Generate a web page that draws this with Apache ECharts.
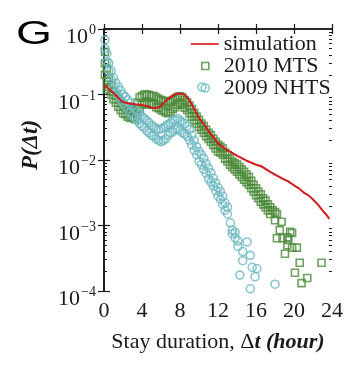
<!DOCTYPE html>
<html><head><meta charset="utf-8">
<script src="https://cdn.jsdelivr.net/npm/echarts@6/dist/echarts.min.js"></script>
<style>html,body{margin:0;padding:0;background:#fff}#c{width:353px;height:377px}</style>
</head><body><div id="c"></div>
<script>
// simulation curve
var simHours = [0,0.5,1,1.5,2,2.5,3,3.5,4,4.5,5,5.5,6,6.5,7,7.5,8,8.5,9,9.5,10,10.5,11,11.5,12,12.5,13,13.5,14,14.5,15,15.5,16,16.5,17,17.5,18,18.5,19,19.5,20,20.5,21,21.5,22,22.5,23,23.5,23.7];
var simProb = [0.14,0.121,0.105,0.089,0.077,0.074,0.0716,0.0706,0.069,0.0668,0.063,0.062,0.067,0.08,0.091,0.1,0.104,0.098,0.08,0.06,0.044,0.0355,0.0277,0.0224,0.018,0.0158,0.014,0.0128,0.0117,0.0107,0.0098,0.0091,0.0085,0.0081,0.0073,0.0066,0.006,0.0055,0.005,0.0046,0.0041,0.0037,0.0032,0.0029,0.0025,0.0021,0.0017,0.0014,0.00126];

// 2010 MTS
var mtsHours = [0.1,0.1,0.1,0.3,0.3,0.3,0.5,0.5,0.75,0.75,1,1,1.25,1.25,1.5,1.5,1.75,1.75,2,2,2.25,2.25,2.5,2.5,2.75,2.75,3,3,3.25,3.25,3.5,3.5,3.75,3.75,4,4,4.25,4.25,4.5,4.5,4.75,4.75,5,5,5.25,5.25,5.5,5.5,5.75,5.75,6,6,6.25,6.25,6.5,6.5,6.75,6.75,7,7,7.25,7.25,7.5,7.5,7.75,7.75,8,8,8.25,8.25,8.5,8.5,8.75,8.75,9,9,9.25,9.25,9.5,9.5,9.75,9.75,10,10,10.25,10.25,10.5,10.5,10.75,10.75,11,11,11.25,11.25,11.5,11.5,11.75,11.75,12,12,12.25,12.25,12.5,12.5,12.75,12.75,13,13,13.25,13.25,13.5,13.5,13.75,13.75,14,14,14.25,14.25,14.5,14.5,14.75,14.75,15,15,15.25,15.25,15.5,15.5,15.75,15.75,16,16,16.25,16.25,16.5,16.5,16.75,16.75,17,17,17.25,17.25,17.5,17.5,17.75,18,18,18.2,18.7,18.5,19.6,18.2,18.8,19.4,19.3,19.8,20.3,19.05,20.6,20.1,21.4,20.8,22.9,19.3,19.8];
var mtsProb = [0.45,0.3,0.2,0.25,0.16,0.12,0.18,0.13,0.14,0.1,0.11,0.085,0.095,0.075,0.085,0.065,0.075,0.058,0.07,0.052,0.065,0.05,0.06,0.046,0.058,0.044,0.06,0.045,0.055,0.042,0.075,0.05,0.09,0.06,0.095,0.07,0.1,0.072,0.1,0.075,0.098,0.072,0.095,0.07,0.095,0.07,0.09,0.064,0.085,0.062,0.082,0.058,0.08,0.056,0.078,0.053,0.075,0.052,0.078,0.055,0.082,0.06,0.087,0.064,0.092,0.07,0.094,0.075,0.09,0.07,0.082,0.063,0.076,0.058,0.068,0.052,0.06,0.046,0.052,0.04,0.046,0.036,0.041,0.032,0.036,0.029,0.033,0.026,0.029,0.023,0.026,0.021,0.024,0.019,0.021,0.017,0.019,0.015,0.017,0.0135,0.016,0.013,0.015,0.012,0.013,0.0105,0.012,0.0095,0.0105,0.0085,0.0095,0.0078,0.009,0.0072,0.0085,0.0066,0.0078,0.006,0.0072,0.0055,0.0066,0.005,0.006,0.0046,0.0055,0.0042,0.0048,0.0037,0.0042,0.0033,0.0037,0.0029,0.0033,0.0026,0.003,0.0023,0.0026,0.0021,0.0024,0.0019,0.0021,0.0017,0.0019,0.0015,0.0017,0.0016,0.0012,0.0015,0.00114,0.00085,0.0008,0.00064,0.00064,0.0006,0.0005,0.00046,0.00046,0.00037,0.00027,0.00019,0.000158,0.000132,0.00027,0.00066,0.00077];

// 2009 NHTS
var nhtsHours = [0.1,0.1,0.3,0.3,0.5,0.5,0.75,0.75,1,1,1.25,1.25,1.5,1.5,1.75,1.75,2,2,2.25,2.25,2.5,2.5,2.75,2.75,3,3,3.25,3.25,3.5,3.5,3.75,3.75,4,4,4.25,4.25,4.5,4.5,4.75,4.75,5,5,5.25,5.25,5.5,5.5,5.75,5.75,6,6,6.25,6.25,6.5,6.5,6.75,6.75,7,7,7.25,7.25,7.5,7.5,7.75,7.75,8,8,8.25,8.25,8.5,8.5,8.75,8.75,9,9,9.25,9.25,9.5,9.5,9.75,9.75,10,10,10.3,10.25,10.25,10.5,10.5,10.75,10.75,11,11,11.25,11.25,11.5,11.5,11.75,11.75,12,12,12.25,12.25,12.5,12.5,12.75,12.75,13,13,13.3,13.5,13.5,13.8,13.8,14.1,14.1,14.3,14.6,14.6,15.05,15.4,15.4,15.6,15.9,16.1,18.0];
var nhtsProb = [0.68,0.5,0.42,0.32,0.3,0.23,0.23,0.17,0.18,0.13,0.15,0.11,0.13,0.095,0.115,0.082,0.1,0.074,0.092,0.066,0.083,0.06,0.075,0.053,0.066,0.047,0.06,0.043,0.055,0.04,0.05,0.036,0.046,0.033,0.043,0.031,0.04,0.028,0.037,0.026,0.034,0.024,0.032,0.023,0.03,0.021,0.029,0.02,0.03,0.019,0.031,0.02,0.033,0.021,0.035,0.024,0.037,0.026,0.04,0.027,0.041,0.029,0.043,0.03,0.04,0.028,0.038,0.026,0.036,0.025,0.033,0.023,0.029,0.02,0.024,0.017,0.02,0.014,0.016,0.012,0.0135,0.0095,0.13,0.012,0.0085,0.0105,0.0072,0.0088,0.0063,0.0075,0.0052,0.0064,0.0046,0.0053,0.004,0.0045,0.0034,0.0038,0.0028,0.0033,0.0025,0.0028,0.0021,0.0022,0.0017,0.0019,0.0015,0.0011,0.00085,0.00075,0.00079,0.00065,0.00058,0.00048,0.000175,0.00029,0.0004,0.00056,0.00035,0.000108,0.00023,0.000165,0.00022,0.000127];

var xTicks = [0,4,8,12,16,20,24];

function zip(a,b){return a.map(function(v,i){return [v,b[i]];});}
var minorLog = [];
for (var k=-4;k<0;k++){for (var m=2;m<=9;m++){minorLog.push(k+Math.log10(m));}}

var SERIF = 'Liberation Serif';
var ink = '#1a1a1a';
var green = '#4b8a3a', cyan = '#6ab8c1', red = '#d21a1a';

var chart = echarts.init(document.getElementById('c'), null, {renderer:'canvas'});
var frame = {show:true, lineStyle:{color:ink, width:1.6}};
chart.setOption({
  animation:false,
  backgroundColor:'#fff',
  grid:{left:104, right:21, top:29, bottom:86},
  legend:{
    orient:'vertical', left:185, top:28, itemGap:0, itemWidth:28, itemHeight:10,
    textStyle:{fontFamily:SERIF, fontSize:22, color:ink, padding:[0,0,0,0]},
    data:[
      {name:'simulation', icon:'path://M0,0 M0,4.2 H28 V5.8 H0 Z M28,10', itemStyle:{color:red, borderWidth:0}},
      {name:'2010 MTS', icon:'path://M0,0 M11,1.5 H18 V8.5 H11 Z M28,10', itemStyle:{color:'rgba(0,0,0,0)', borderColor:green, borderWidth:1.6}},
      {name:'2009 NHTS', icon:'path://M0,0 M18.5,5 A4,4 0 1 1 10.5,5 A4,4 0 1 1 18.5,5 Z M28,10', itemStyle:{color:'rgba(0,0,0,0)', borderColor:cyan, borderWidth:1.6}}
    ]
  },
  xAxis:[
    {type:'value', position:'bottom', min:0, max:24, interval:4,
     axisLine:frame, axisTick:{inside:true, length:5, lineStyle:{color:ink,width:1.2}},
     axisLabel:{fontFamily:SERIF, fontSize:22, color:ink, margin:9,
       customValues:xTicks},
     splitLine:{show:false},
     name:'{n|Stay duration, Δ}{b|t (hour)}', nameLocation:'middle', nameGap:40,
     nameTextStyle:{rich:{n:{fontFamily:SERIF,fontSize:22,color:ink},b:{fontFamily:SERIF,fontSize:22,color:ink,fontWeight:'bold',fontStyle:'italic'}}}
    },
    {type:'value', position:'top', min:0, max:24, interval:4,
     axisLine:frame, axisTick:{inside:true, length:5, lineStyle:{color:ink,width:1.2}},
     axisLabel:{show:false}, splitLine:{show:false}}
  ],
  yAxis:[
    {type:'log', logBase:10, min:1e-4, max:1, position:'left',
     axisLine:frame, axisTick:{inside:true, length:6, lineStyle:{color:ink,width:1.2}},
     axisLabel:{margin:8, padding:[14,0,0,0],
       formatter:function(v){var e=Math.round(Math.log10(v));return '{b|10}{s|'+(e===0?'0':'−'+(-e))+'}';},
       rich:{b:{fontFamily:SERIF,fontSize:22,color:ink,verticalAlign:'bottom',lineHeight:22},
             s:{fontFamily:SERIF,fontSize:14,color:ink,verticalAlign:'bottom',padding:[0,0,11,1]}}},
     splitLine:{show:false}, minorTick:{show:false}},
    {type:'log', logBase:10, min:1e-4, max:1, position:'right',
     axisLine:frame, axisTick:{inside:true, length:6, lineStyle:{color:ink,width:1.2}},
     axisLabel:{show:false}, splitLine:{show:false}},
    {type:'value', min:-4, max:0, position:'left', show:true,
     axisLine:{show:false}, axisTick:{inside:true, length:3, customValues:minorLog, lineStyle:{color:ink,width:1}},
     axisLabel:{show:false}, splitLine:{show:false}},
    {type:'value', min:-4, max:0, position:'right', show:true,
     axisLine:{show:false}, axisTick:{inside:true, length:3, customValues:minorLog, lineStyle:{color:ink,width:1}},
     axisLabel:{show:false}, splitLine:{show:false}}
  ],
  graphic:[
    {type:'text', x:16, y:51, scaleX:1.4, style:{text:'G', font:'33px "Liberation Sans"', fill:'#000', verticalAlign:'bottom'}},
    {type:'text', x:31, y:145, rotation:Math.PI/2,
     style:{text:'P(Δt)', font:'italic bold 23px "Liberation Serif"', fill:ink, align:'center', verticalAlign:'middle'}}
  ],
  series:[
    {name:'2010 MTS', type:'scatter', xAxisIndex:0, yAxisIndex:0, symbol:'rect', symbolSize:7,
     itemStyle:{color:'rgba(0,0,0,0)', borderColor:green, borderWidth:1.6}, data:zip(mtsHours,mtsProb), z:2},
    {name:'2009 NHTS', type:'scatter', xAxisIndex:0, yAxisIndex:0, symbol:'circle', symbolSize:8,
     itemStyle:{color:'rgba(0,0,0,0)', borderColor:cyan, borderWidth:1.6}, data:zip(nhtsHours,nhtsProb), z:3},
    {name:'simulation', type:'line', xAxisIndex:0, yAxisIndex:0, showSymbol:false, symbol:'none', smooth:0.3,
     lineStyle:{color:red, width:2}, itemStyle:{color:red}, data:zip(simHours,simProb), z:4}
  ]
});
</script></body></html>
